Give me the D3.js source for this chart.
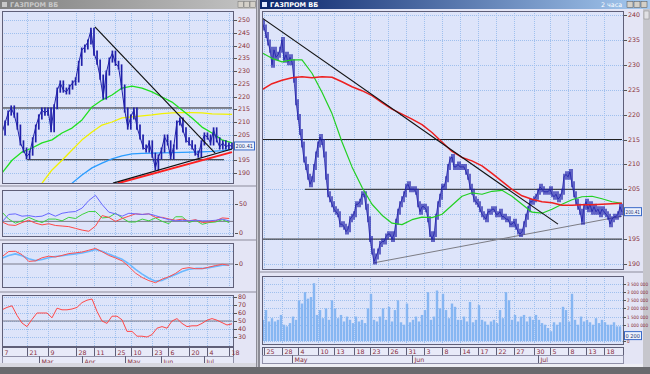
<!DOCTYPE html>
<html><head><meta charset="utf-8">
<script src="https://cdn.jsdelivr.net/npm/d3@7/dist/d3.min.js"></script>
<style>
html,body{margin:0;padding:0;background:#e4e5f5;overflow:hidden}
svg{display:block}
text{font-family:"DejaVu Sans",Arial,sans-serif}
text.narrow{font-family:"Liberation Sans Narrow","DejaVu Sans Condensed","DejaVu Sans",sans-serif}
</style></head><body>
<svg id="chart" width="650" height="374"></svg>
<script>
// ===== LEFT WINDOW (daily) =====
const leftClose=[205.7,209.6,213.5,215.5,212.7,208,201.8,199,196.3,197.8,203,208,212,214.7,213.5,214.7,207,216,222.5,225.3,222.5,221.8,223.7,225.3,226.5,233,238.2,239.4,241.4,246,237,233.5,227.6,219.8,229.2,234.3,237,233,231.6,223.7,214.7,208,212,214.7,208,204.1,200.2,199,201.8,197,192,196.3,199,204.1,201.8,196.3,200.2,209.6,210.8,206.9,203,201.8,200.2,197.8,197,201.8,204.9,204.1,201.8,206.9,203,200.2,201.8,200.2,201,200.41];
const leftGreenMA=[190,195,198.2,199.8,201.8,203,205.7,207.6,210.8,215.9,218.6,220.6,223.3,224.1,223.3,221.8,219.8,217.8,214.7,211.6,208,205.7,203,201.8];
const leftYellowStart=4;
const leftYellowMA=[186,191.2,195,199,203,206.1,208.8,210,211.6,212,212.4,212.8,213.3,213.6,213.7,213.7,213.6,213.2,213.1,213];
const leftBlueStart=7;
const leftBlueMA=[186,189.2,192,193.9,195.5,196.7,197.5,197.7,197.8,197.9,198,198.1,198.2,198.3,198.5,198.8,199.3];
const leftPriceTicks=[190,195,200,205,210,215,220,225,230,235,240,245,250];
const leftLast=200.41;
const leftTrendDown=[[30.3,247.3],[69.5,197.8]];
const leftResist=[[0,215.5],[75,215.5]];
const leftSupportH=[[8.2,195.2],[72.4,195.2]];
const leftSupportBlack=[[36.2,186],[75,199.4]];
const leftSupportRed=[[37.8,186],[75,198.2]];
const leftDayLabels=["7","21","9","28","11","25","10","23","6","20","4","18"];
const leftDayIdx=[0,8,15,24,30,37,42,49,54,61,67,74];
const leftMonthLabels=["Mar","Apr","May","Jun","Jul"];
const leftMonthIdx=[12,26,40,52,66];
// DMI
const dmiBlue=[19,32,33,29,30,28,29,34,29,34,36,37,43,56,65,49,36,33,29,34,33,32,33,30,26,23,21,22,21,22,21,21,22,24,21];
const dmiGreen=[36,24,17,21,27,22,18,24,24,21,27,25,32,37,37,26,27,34,26,19,19,24,21,26,20,16,28,28,18,22,15,18,19,23,18];
const dmiRed=[19,14,13,18,22,17,14,16,13,12,11,8,5,3,12,30,27,20,25,29,33,32,33,27,27,24,22,24,21,23,18,19,21,26,25];
const dmiTicks=[0,50];
const dmiLevel=20;
// MACD
const macdRed=[2.8,4.8,4.9,3.6,1.0,1.2,2.4,3.0,2.7,3.3,4.0,4.3,4.6,5.3,6.0,4.7,3.3,2.3,1.2,-1.0,-3.5,-5.2,-6.4,-7.2,-5.8,-4.9,-3.6,-1.8,-1.4,-1.8,-1.8,-1.2,-0.6,-0.1,-0.5];
const macdBlue=[2.2,3.3,3.9,3.2,2.0,1.3,1.7,2.4,2.9,3.2,3.6,3.9,4.2,4.8,5.6,4.9,3.8,2.8,1.8,0.1,-2.1,-3.9,-5.5,-6.6,-6.3,-5.1,-4.0,-2.9,-2.0,-1.7,-1.7,-1.4,-0.9,-0.5,-0.4];
// RSI
const rsiRed=[64,67,69,57,47.5,43,52,60,60,60,54,66,64,64,65,67,73,76,77.5,62,50,47,56,56,51.5,37,37,31,31,30,33,41,43,41,50,53,47,43,44,44,47,51,53,51,48,45,46.5];
const rsiTicks=[30,40,50,60,70,80];

// ===== RIGHT WINDOW (2 hours) =====
const rightTitle="ГАЗПРОМ ВБ";
const rightPeriod="2 часа";
const rightClose=[238.5,237.5,236,234.5,233,230,233,231.5,232,233,235,231,232,230.5,231.5,230.5,227,222.5,219.5,216.5,214,211,209.5,207.5,206,207,209.5,212,214,215.5,214.5,212,207.5,204,203,202,201,200.5,200,198,198,197.5,196.5,197,199,199.5,200,202,202,202.5,204,204,201.5,199,195,192.5,190.5,191.5,192.5,194,194.5,194.5,195.5,196,196,195,196,198.5,200.5,202,203,204,205.5,206,205,205,205,204.5,202,200.5,201.5,201.5,201,199,196,195,196,199.5,202,203.5,205.5,205.5,207,209.5,211,211.5,209.5,209.5,210,209.5,209.5,209.5,208.5,207.5,205.5,204.5,203,202.5,202,201,200,199.5,199,200.5,200.5,201,201,200,200,200.5,199.5,199.5,199,199,198,198,198.5,197.5,196.5,196,196.5,198,199.5,201,202.5,202.5,203,203.5,204.5,205.5,205,204.5,204.5,204.5,205,204,203.5,204,203,203.5,204.5,207.5,208,207.5,208.5,206,204,202.5,201.5,200.5,198.5,201.5,202.5,201,202,200.5,201.5,200.5,201,200,201,200.5,200,199.5,198,199,199.5,199.5,200,201.5,200.41];
const rightGreenMA=[232.4,231.3,230.6,231,231,228.3,224.5,220.2,214.5,209.5,205.4,202,199.8,198.2,197.9,198.9,199.4,199.3,200,201.8,203.6,204.3,204,204.6,204.8,203.6,202,200.4,200.2,201,202,202.9,203.5,203.6,203.1,202.5,202.2];
const rightRedMA=[225,226.2,226.9,227.4,227.6,227.4,227.6,227.5,226.6,225.6,224.8,223.8,222.4,221.1,220.1,219.1,218,216.4,214.5,212.6,211.4,210.7,209.7,208.2,206.6,205,203.7,203,202.5,202.3,201.8,201.8,201.9,201.9,202,202.1,202.2];
const rightPriceTicks=[190,195,200,205,210,215,220,225,230,235,240];
const rightLast=200.41;
const rightTrendDown=[[0,239.4],[148,198]];
const rightSupport=[[55.5,190.2],[180,199.6]];
const rightH215=[[0,215],[180,215]];
const rightH205=[[21.5,205],[180,205]];
const rightH195=[[0,195],[180,195]];
const rightVolume=[1.3,1.9,1.2,1.4,1.2,1.3,1.6,1.0,0.9,1.1,1.5,1.3,2.5,2.3,3.0,2.6,2.7,3.55,1.6,1.9,1.4,2.0,1.3,2.5,2.0,1.4,1.6,1.2,1.5,1.3,1.1,1.5,1.2,1.3,1.1,2.0,2.9,1.3,1.2,1.5,2.0,1.3,2.1,1.2,1.9,2.5,1.15,1.0,2.3,1.15,1.3,1.5,1.2,1.6,1.9,3.0,1.3,1.5,3.1,2.0,2.9,1.9,1.4,2.3,2.1,1.3,1.3,1.5,1.2,2.4,1.15,1.3,2.2,1.3,1.2,1.0,1.2,1.3,1.1,1.9,1.4,3.0,2.5,1.3,1.6,1.2,1.5,1.6,1.2,1.5,1.3,1.6,1.3,1.1,1.0,0.8,0.6,1.15,1.0,1.15,2.1,1.9,1.2,2.9,1.3,1.0,1.5,1.2,1.3,1.15,1.0,1.4,1.1,1.3,1.15,1.0,1.0,1.15,0.9,0.9];
const volTicks=[0,1,1.5,2,2.5,3,3.5];
const volTickLabels=["0","1 000 000","1 500 000","2 000 000","2 500 000","3 000 000","3 500 000"];
const volLast=0.3;
const volLastLabel="0 200";
const rightDayLabels=["25","28","4","10","13","18","23","26","31","3","8","14","17","22","27","30","5","8","13","18"];
const rightDayIdx=[1,10,18,28,36,46,54,63,72,81,90,99,108,117,126,136,144,153,162,171];
const rightMonthLabels=["May","Jun","Jul"];
const rightMonthIdx=[15,75,138];

// ===== DRAWING =====
const svg=d3.select("#chart");
const defs=svg.append("defs");
const PLOT_BG="#dde4fa", GRID="#9fc0ee", AXIS_TXT="#8a2f3a", FRAME="#5f5f78", DARKBLUE="#2020aa";

function grad(id,c0,c1){const g=defs.append("linearGradient").attr("id",id);g.append("stop").attr("offset","0").attr("stop-color",c0);g.append("stop").attr("offset","1").attr("stop-color",c1);}
grad("gAct","#0a246a","#a6caf0");
grad("gIn","#808080","#c4c4c4");
function clip(id,x0,y0,x1,y1){defs.append("clipPath").attr("id",id).append("rect").attr("x",x0).attr("y",y0).attr("width",x1-x0).attr("height",y1-y0);}

svg.append("rect").attr("width",650).attr("height",374).attr("fill","#e4e5f5");

function panel(id,x0,y0,x1,y1){
  svg.append("rect").attr("x",x0+.5).attr("y",y0+.5).attr("width",x1-x0).attr("height",y1-y0).attr("fill",PLOT_BG);
  clip(id,x0+1,y0+1,x1,y1);
  return svg.append("g").attr("clip-path",`url(#${id})`);
}
function frame(x0,y0,x1,y1){
  svg.append("rect").attr("x",x0+.5).attr("y",y0+.5).attr("width",x1-x0).attr("height",y1-y0).attr("fill","none").attr("stroke",FRAME);
}
function hgrid(g,ys,vals,x0,x1){
  g.selectAll(null).data(vals).enter().append("line").attr("x1",x0).attr("x2",x1)
   .attr("y1",d=>Math.round(ys(d))+.5).attr("y2",d=>Math.round(ys(d))+.5)
   .attr("stroke",GRID).attr("stroke-dasharray","1,1");
}
function vgrid(g,xs,idx,y0,y1){
  g.selectAll(null).data(idx).enter().append("line").attr("y1",y0).attr("y2",y1)
   .attr("x1",d=>Math.round(xs(d))+.5).attr("x2",d=>Math.round(xs(d))+.5)
   .attr("stroke",GRID).attr("stroke-dasharray","1,1");
}
function poly(g,pts,xs,ys,color,w){
  return g.append("path").attr("d",d3.line().x(d=>xs(d[0])).y(d=>ys(d[1]))(pts))
   .attr("fill","none").attr("stroke",color).attr("stroke-width",w).attr("stroke-linejoin","round");
}
function series(g,arr,start,xs,ys,color,w){
  return poly(g,arr.map((v,i)=>[i+start,v]),xs,ys,color,w);
}
function priceBars(g,arr,xs,ys,pad,w,lw){
  g.selectAll(null).data(arr).enter().append("line")
   .attr("x1",(d,i)=>xs(i)).attr("x2",(d,i)=>xs(i))
   .attr("y1",(d,i)=>ys(Math.max(d,i?arr[i-1]:d)+pad))
   .attr("y2",(d,i)=>ys(Math.min(d,i?arr[i-1]:d)-pad))
   .attr("stroke",DARKBLUE).attr("stroke-width",w);
  series(g,arr,0,xs,ys,DARKBLUE,lw);
}
// axis labels; skip the text hidden under the current-value box
function yLabels(vals,ys,x,fs,fmt,hideY,hideDist,cls){
  const g=svg.append("g");
  vals.forEach(v=>{
    const y=ys(v);
    g.append("line").attr("x1",x-4).attr("x2",x-1).attr("y1",Math.round(y)+.5).attr("y2",Math.round(y)+.5).attr("stroke","#555");
    if(hideY!==undefined && hideY!==null && Math.abs(y-hideY)<(hideDist||7)) return;
    const label=fmt?fmt(v):String(v);
    const t=g.append("text").attr("x",x).attr("y",y+2).attr("font-size",fs).attr("fill",AXIS_TXT).text(label);
    if(cls) t.attr("class",cls);
  });
}
function valueBox(x,y,w,txt){
  svg.append("rect").attr("x",x+.5).attr("y",y-4.5).attr("width",w).attr("height",8).attr("fill","#eef2fc").attr("stroke","#3a6ac8");
  svg.append("text").attr("x",x+1.5).attr("y",y+2).attr("font-size",5.5).attr("fill","#203070")
    .attr("textLength",w-2.5).attr("lengthAdjust","spacingAndGlyphs").text(txt);
}
function dateAxis(x0,x1,y0,h,xs,dayIdx,dayLab,monIdx,monLab){
  const g=svg.append("g");
  g.append("rect").attr("x",x0+.5).attr("y",y0+.5).attr("width",x1-x0).attr("height",h).attr("fill","#e8eaf8").attr("stroke",FRAME);
  g.append("rect").attr("x",x0+.5).attr("y",y0+h+.5).attr("width",x1-x0).attr("height",h).attr("fill","#e8eaf8").attr("stroke","#9090a8");
  dayIdx.forEach((d,i)=>{
    const x=Math.round(xs(d))+.5;
    g.append("line").attr("x1",x).attr("x2",x).attr("y1",y0).attr("y2",y0+h).attr("stroke",FRAME);
    g.append("text").attr("x",x+2).attr("y",y0+h-1.5).attr("font-size",6.3).attr("fill",AXIS_TXT).text(dayLab[i]);
  });
  monIdx.forEach((d,i)=>{
    const x=Math.round(xs(d))+.5;
    g.append("line").attr("x1",x).attr("x2",x).attr("y1",y0+h).attr("y2",y0+2*h).attr("stroke",FRAME);
    g.append("text").attr("x",x+2).attr("y",y0+2*h-1.5).attr("font-size",6.3).attr("fill",AXIS_TXT).text(monLab[i]);
  });
}

// ---------- LEFT WINDOW ----------
const xL=d3.scaleLinear().domain([0,leftClose.length-1]).range([2,232]);
const yL=d3.scaleLinear().domain([190,250]).range([173,20]);
const xLma=d3.scaleLinear().domain([0,leftGreenMA.length-1]).range([2,232]);
[185,239,291].forEach(y=>svg.append("rect").attr("x",0).attr("y",y).attr("width",256).attr("height",2).attr("fill","#b8b8c8"));

const gL=panel("cL",2,11,233,183);
hgrid(gL,yL,leftPriceTicks,2,233);
vgrid(gL,xL,leftDayIdx,11,183);
poly(gL,leftResist,xL,yL,"#202020",1);
poly(gL,leftSupportH,xL,yL,"#202020",1);
series(gL,leftBlueMA,leftBlueStart,xLma,yL,"#2a9cff",1.3);
series(gL,leftYellowMA,leftYellowStart,xLma,yL,"#f2f200",1.3);
series(gL,leftGreenMA,0,xLma,yL,"#20e020",1.3);
priceBars(gL,leftClose,xL,yL,1.0,1.7,1);
poly(gL,leftTrendDown,xL,yL,"#111",1.2);
poly(gL,leftSupportRed,xL,yL,"#ff2020",2);
poly(gL,leftSupportBlack,xL,yL,"#111",1.2);
frame(2,11,233,183);
yLabels(leftPriceTicks,yL,238,6.3,null,yL(leftLast));
valueBox(234,yL(leftLast),20,leftLast.toFixed(2));

// DMI
const xD=d3.scaleLinear().domain([0,dmiBlue.length-1]).range([2,229]);
const yD=d3.scaleLinear().domain([0,50]).range([233,204]);
const gD=panel("cD",2,190,233,236);
hgrid(gD,yD,dmiTicks,2,233);
vgrid(gD,xL,leftDayIdx,190,236);
poly(gD,[[0,dmiLevel],[dmiBlue.length-1,dmiLevel]],d3.scaleLinear().domain([0,dmiBlue.length-1]).range([2,233]),yD,"#7a7a8a",1);
series(gD,dmiGreen,0,xD,yD,"#3ed23e",1);
series(gD,dmiRed,0,xD,yD,"#ff4848",1);
series(gD,dmiBlue,0,xD,yD,"#6868ff",1);
frame(2,190,233,236);
yLabels(dmiTicks,yD,239,6.3);

// MACD
const yM=d3.scaleLinear().domain([0,5]).range([264,251]);
const gM=panel("cM",2,243,233,287);
vgrid(gM,xL,leftDayIdx,243,287);
hgrid(gM,yM,[-5,5],2,233);
poly(gM,[[0,0],[macdRed.length-1,0]],d3.scaleLinear().domain([0,macdRed.length-1]).range([2,233]),yM,"#7a7a8a",1);
series(gM,macdBlue,0,xD,yM,"#6ab8ff",1.6);
series(gM,macdRed,0,xD,yM,"#ff5050",1);
frame(2,243,233,287);
yLabels([0],yM,239,6.3);

// RSI
const xRs=d3.scaleLinear().domain([0,rsiRed.length-1]).range([2,232]);
const yRs=d3.scaleLinear().domain([30,80]).range([337,297]);
const gRs=panel("cRs",2,295,233,346);
vgrid(gRs,xL,leftDayIdx,295,346);
hgrid(gRs,yRs,rsiTicks,2,233);
poly(gRs,[[0,50],[rsiRed.length-1,50]],xRs,yRs,"#7a7a8a",1);
series(gRs,rsiRed,0,xRs,yRs,"#ff4848",1);
frame(2,295,233,346);
yLabels(rsiTicks,yRs,238,6.3);

dateAxis(2,233,347,9,xL,leftDayIdx,leftDayLabels,leftMonthIdx,leftMonthLabels);

// left title bar
svg.append("rect").attr("x",0).attr("y",0).attr("width",256).attr("height",9).attr("fill","url(#gIn)");
svg.append("text").attr("x",10).attr("y",7).attr("font-size",6.5).attr("font-weight","bold").attr("fill","#c8c8c8").text(rightTitle);
svg.append("rect").attr("x",2).attr("y",2).attr("width",5).attr("height",5).attr("fill","#c8c8c8");
[238,244,250].forEach(x=>svg.append("rect").attr("x",x).attr("y",1.5).attr("width",5.5).attr("height",6).attr("fill","#d4d0c8").attr("stroke","#707070").attr("stroke-width",.5));

// ---------- RIGHT WINDOW ----------
svg.append("rect").attr("x",256).attr("y",0).attr("width",4).attr("height",374).attr("fill","#8c8c96");
svg.append("rect").attr("x",257).attr("y",0).attr("width",1).attr("height",374).attr("fill","#c8c8d0");

// right scrollbar (drawn first so axis texts stay readable above it)
svg.append("rect").attr("x",643).attr("y",9).attr("width",7).attr("height",358).attr("fill","#c6c6cc");
svg.append("rect").attr("x",644).attr("y",11).attr("width",5).attr("height",8).attr("fill","#e0e0e4").attr("stroke","#888").attr("stroke-width",.5);

const xR=d3.scaleLinear().domain([0,rightClose.length-1]).range([262,622]);
const yR=d3.scaleLinear().domain([190,240]).range([264,15]);
const xRma=d3.scaleLinear().domain([0,rightGreenMA.length-1]).range([262,622]);
svg.append("rect").attr("x",260).attr("y",271).attr("width",383).attr("height",2).attr("fill","#b8b8c8");

const gR=panel("cR",262,11,623,269);
hgrid(gR,yR,rightPriceTicks,262,623);
vgrid(gR,xR,rightDayIdx,11,269);
poly(gR,rightH215,xR,yR,"#202020",1);
poly(gR,rightH205,xR,yR,"#202020",1);
poly(gR,rightH195,xR,yR,"#202020",1);
poly(gR,rightSupport,xR,yR,"#7c7c84",1);
priceBars(gR,rightClose,xR,yR,0.6,1.3,0.8);
series(gR,rightGreenMA,0,xRma,yR,"#22d022",1.2);
series(gR,rightRedMA,0,xRma,yR,"#ee2020",1.5);
poly(gR,rightTrendDown,xR,yR,"#111",1.1);
frame(262,11,623,269);
yLabels(rightPriceTicks,yR,628,6.3,null,yR(rightLast));
valueBox(624,yR(rightLast),17,rightLast.toFixed(2));

// volume
const xV=d3.scaleLinear().domain([0,rightVolume.length-1]).range([263,620]);
const yV=d3.scaleLinear().domain([0,3.5]).range([341,284]);
const gV=panel("cV",262,276,623,344);
vgrid(gV,xR,rightDayIdx,276,344);
hgrid(gV,yV,volTicks,262,623);
gV.selectAll(null).data(rightVolume).enter().append("rect")
  .attr("x",(d,i)=>xV(i)-1.2).attr("width",2.4)
  .attr("y",d=>yV(d)).attr("height",d=>yV(0)-yV(d))
  .attr("fill","#86b6f2");
frame(262,276,623,344);
valueBox(624,yV(volLast),17,volLastLabel);
yLabels(volTicks,yV,627,4.6,v=>volTickLabels[volTicks.indexOf(v)],yV(volLast),3,"narrow");

dateAxis(262,623,347,8,xR,rightDayIdx,rightDayLabels,rightMonthIdx,rightMonthLabels);

// right title bar
svg.append("rect").attr("x",260).attr("y",0).attr("width",390).attr("height",9).attr("fill","url(#gAct)");
svg.append("rect").attr("x",262).attr("y",2).attr("width",5).attr("height",5).attr("fill","#e0e8ff");
svg.append("text").attr("x",270).attr("y",7).attr("font-size",6.5).attr("font-weight","bold").attr("fill","#ffffff").text(rightTitle);
svg.append("text").attr("x",622).attr("y",7).attr("font-size",6.3).attr("text-anchor","end").attr("fill","#ffffff").text(rightPeriod);
[627,634,641].forEach(x=>svg.append("rect").attr("x",x).attr("y",1.5).attr("width",6).attr("height",6).attr("fill","#d4d0c8").attr("stroke","#505050").attr("stroke-width",.5));

// bottom scroll strips
svg.append("rect").attr("x",0).attr("y",363).attr("width",256).attr("height",4).attr("fill","#d8d8e0");
svg.append("rect").attr("x",260).attr("y",364).attr("width",383).attr("height",3).attr("fill","#eeeef4");
svg.append("rect").attr("x",0).attr("y",367).attr("width",650).attr("height",7).attr("fill","#6a6a6e");
</script></body></html>
